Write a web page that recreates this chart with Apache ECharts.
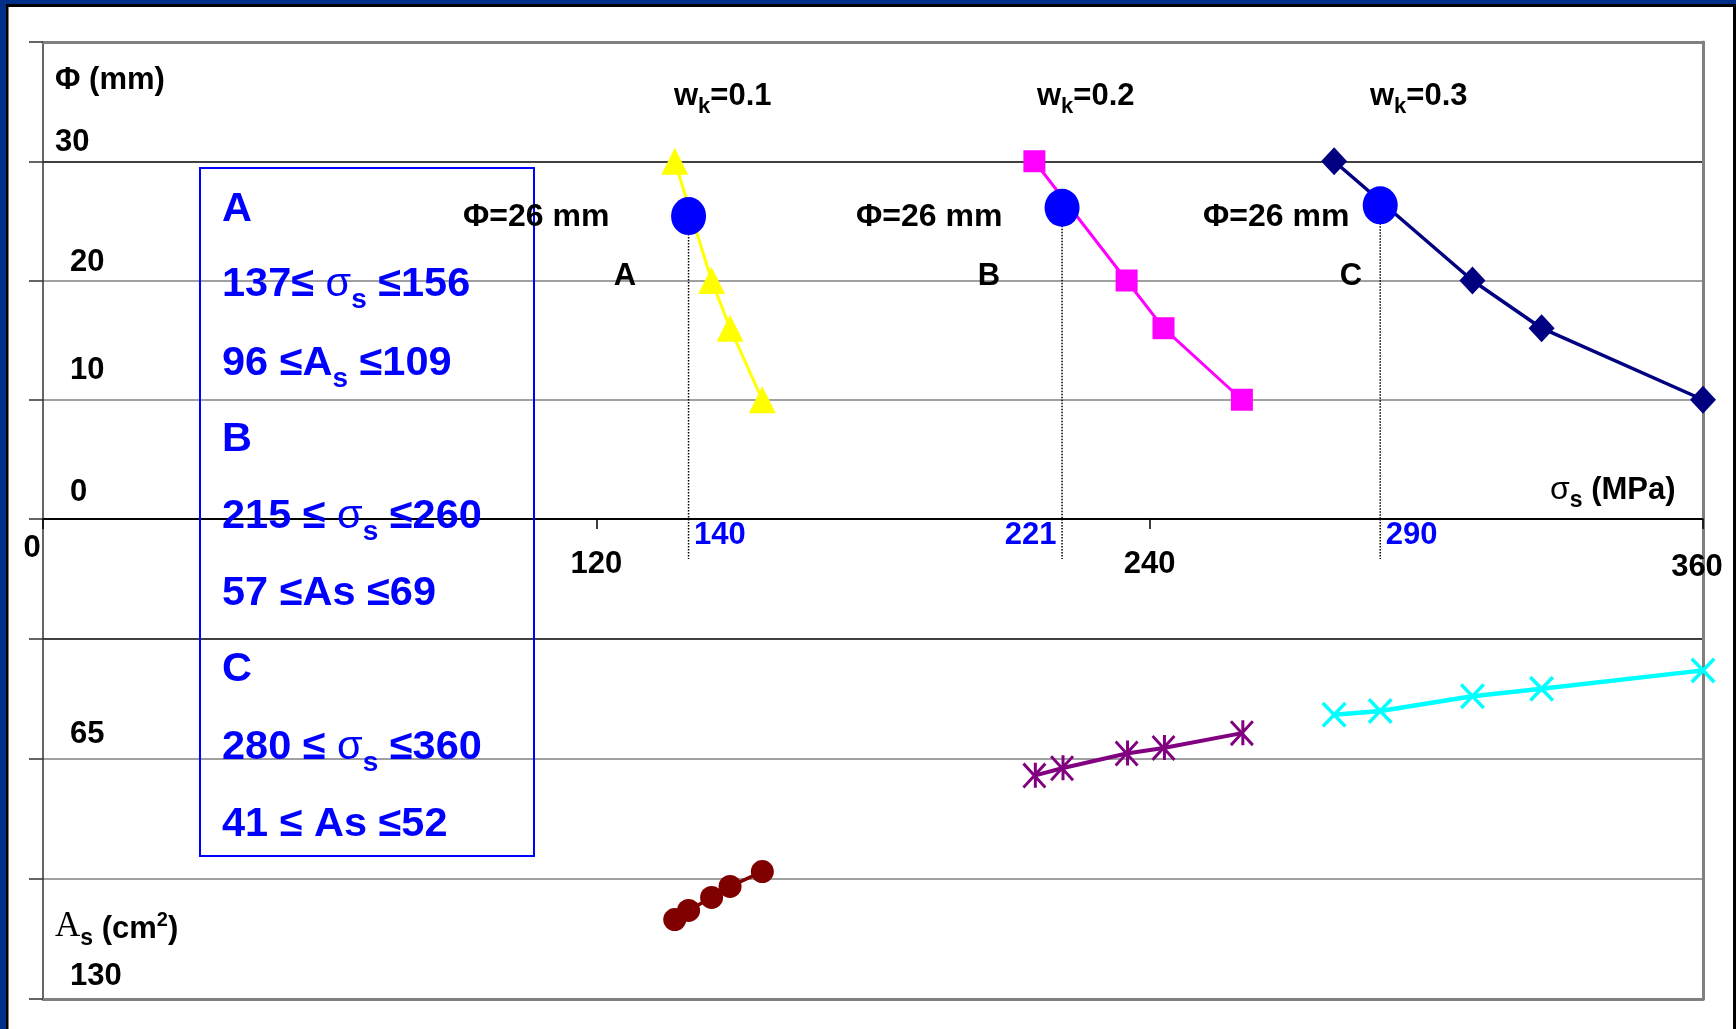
<!DOCTYPE html>
<html><head><meta charset="utf-8">
<script src="https://cdn.jsdelivr.net/npm/echarts@6/dist/echarts.min.js"></script>
<style>html,body{margin:0;padding:0;background:#fff}#c{width:1736px;height:1029px}</style>
</head><body><div id="c"></div>
<script>
// ---------- data ----------
const phi = [30, 20, 16, 10];                 // bar diameter (mm)
const sigmaA = [137, 145, 149, 156];          // wk = 0.1
const sigmaB = [215, 235, 243, 260];          // wk = 0.2
const sigmaC = [280, 310, 325, 360];          // wk = 0.3
const dotSigma = [140, 221, 290];             // Φ = 26 mm points
const dotPhi = [25.4, 26.1, 26.3];
const asSigmaA = [137, 140, 145, 149, 156];
const asA = [108.5, 106, 102.5, 99.5, 95.5];
const asSigmaB = [215, 221, 235, 243, 260];
const asB = [69.5, 67.5, 63.5, 62, 58];
const asSigmaC = [280, 290, 310, 325, 360];
const asC = [53, 52, 48, 46, 41];
const xTicks = [0, 120, 240, 360];
const phiTicks = [0, 10, 20, 30];
const asTicks = [65, 130];
const wkLabels = ['0.1', '0.2', '0.3'];
const groupNames = ['A', 'B', 'C'];
const boxLines = [
  '{m|A}',
  '{m|137≤ }{g|σ}{s|s}{m| ≤156}',
  '{m|96 ≤A}{s|s}{m| ≤109}',
  '{m|B}',
  '{m|215 ≤ }{g|σ}{s|s}{m| ≤260}',
  '{m|57 ≤As ≤69}',
  '{m|C}',
  '{m|280 ≤ }{g|σ}{s|s}{m| ≤360}',
  '{m|41 ≤ As ≤52}'
];

// ---------- styles ----------
const FONT = "'Liberation Sans', Arial, Helvetica, sans-serif";
const pairs = (xs, ys) => xs.map((x, i) => [x, ys[i]]);
const asteriskPath = 'path://M10.5 0L13.5 0L13.5 24L10.5 24Z M1.1 -0.1L23.1 22.9L21 24.9L-1 1.9Z M23.1 1.9L1.1 24.9L-1 22.9L21 -0.1Z';
const crossPath = 'path://M1.2 -1.2L23.2 20.8L20.8 23.2L-1.2 1.2Z M23.2 1.2L1.2 23.2L-1.2 20.8L20.8 -1.2Z';
const phiLift = {30: [8, 0], 20: [7, 15], 10: [28, 15], 0: [23, 15]};
const asLift = {65: [20, 15], 130: [16, 15]};
const dotDepth = 10.8;
const labelSide = ['right', 'left', 'right'];
const dotLabelX = [463, 856, 1203];
const wkX = [674, 1037, 1370];
const grpX = [625, 989, 1351];

function yRich(lift) {
  const r = {};
  Object.keys(lift).forEach(k => {
    r['t' + k] = {fontSize: 31, fontWeight: 'bold', color: '#000', fontFamily: FONT,
      lineHeight: 30, padding: [0, 0, lift[k][0], lift[k][1]]};
  });
  return r;
}

const chart = echarts.init(document.getElementById('c'), null, {renderer: 'canvas'});

function lineSeries(xi, yi, data, color, symbol, size, width, z) {
  return {type: 'line', xAxisIndex: xi, yAxisIndex: yi, data, symbol, symbolSize: size,
    showAllSymbol: true, itemStyle: {color, borderWidth: 0, opacity: 1},
    lineStyle: {color, width}, z: z || 3, animation: false, silent: true};
}

const series = [
  lineSeries(0, 0, pairs(sigmaA, phi), '#FFFF00', 'triangle', 27, 3),
  lineSeries(0, 0, pairs(sigmaB, phi), '#FF00FF', 'rect', 22, 3),
  lineSeries(0, 0, pairs(sigmaC, phi), '#000080', 'diamond', [26, 28], 3.5),
  lineSeries(2, 2, pairs(asSigmaA, asA), '#800000', 'circle', 23, 3.5),
  lineSeries(2, 2, pairs(asSigmaB, asB), '#800080', asteriskPath, [24, 26], 4),
  lineSeries(2, 2, pairs(asSigmaC, asC), '#00FFFF', crossPath, [25, 26], 4.5)
];
dotSigma.forEach((s, i) => {
  series.push({type: 'line', xAxisIndex: 0, yAxisIndex: 0, data: [[s, dotPhi[i]], [s, 0]],
    symbol: 'none', lineStyle: {type: 'dotted', color: '#000', width: 1.5}, z: 2,
    animation: false, silent: true});
  series.push({type: 'line', xAxisIndex: 2, yAxisIndex: 2,
    data: [[s, 0], {value: [s, dotDepth], label: {show: true}}],
    symbol: 'circle', symbolSize: 1, itemStyle: {color: 'rgba(0,0,0,0)'},
    lineStyle: {type: 'dotted', color: '#000', width: 1.5}, z: 2, animation: false, silent: true,
    label: {show: false, position: labelSide[i], distance: 5, offset: [0, -23],
      formatter: p => String(p.value[0]), color: '#0000FF', fontSize: 31,
      fontWeight: 'bold', fontFamily: FONT}});
});
series.push({type: 'scatter', xAxisIndex: 0, yAxisIndex: 0, data: pairs(dotSigma, dotPhi),
  symbol: 'circle', symbolSize: [35, 38], itemStyle: {color: '#0000FF', opacity: 1},
  z: 5, animation: false, silent: true});

// ---------- text annotations ----------
const graphic = [
  {type: 'rect', shape: {x: 0, y: 0, width: 1736, height: 4}, style: {fill: '#003087'}, z: 100},
  {type: 'rect', shape: {x: 0, y: 4, width: 1736, height: 3}, style: {fill: '#000'}, z: 100},
  {type: 'rect', shape: {x: 0, y: 0, width: 6, height: 1029}, style: {fill: '#003087'}, z: 100},
  {type: 'rect', shape: {x: 6, y: 4, width: 2.5, height: 1025}, style: {fill: '#000'}, z: 100},
  {type: 'rect', shape: {x: 1733, y: 4, width: 3, height: 1025}, style: {fill: '#000'}, z: 100},
  {type: 'rect', shape: {x: 200, y: 168, width: 334, height: 688},
    style: {fill: 'none', stroke: '#0000FF', lineWidth: 2}, z: 50},
  {type: 'text', x: 55, y: 80, style: {text: 'Φ (mm)', fill: '#000', fontSize: 31,
    fontWeight: 'bold', fontFamily: FONT, verticalAlign: 'middle'}, z: 50},
  {type: 'text', x: 55, y: 930, style: {
    text: '{a|A}{s|s}{b| (cm}{p|2}{b|)}', verticalAlign: 'middle',
    rich: {
      a: {fontSize: 35, fontFamily: "'Liberation Serif', serif", fill: '#000', verticalAlign: 'bottom', padding: [0, 0, 6, 0]},
      s: {fontSize: 23, fontWeight: 'bold', fontFamily: FONT, fill: '#000', verticalAlign: 'bottom'},
      b: {fontSize: 31, fontWeight: 'bold', fontFamily: FONT, fill: '#000', verticalAlign: 'bottom', padding: [0, 0, 6, 0]},
      p: {fontSize: 20, fontWeight: 'bold', fontFamily: FONT, fill: '#000', verticalAlign: 'bottom', padding: [0, 0, 20, 0]}
    }}, z: 50},
  {type: 'text', x: 1550, y: 493, style: {
    text: '{g|σ}{s|s}{b| (MPa)}', verticalAlign: 'middle',
    rich: {
      g: {fontSize: 32, fontFamily: FONT, fill: '#000', verticalAlign: 'bottom', padding: [0, 0, 6, 0]},
      s: {fontSize: 23, fontWeight: 'bold', fontFamily: FONT, fill: '#000', verticalAlign: 'bottom'},
      b: {fontSize: 31, fontWeight: 'bold', fontFamily: FONT, fill: '#000', verticalAlign: 'bottom', padding: [0, 0, 6, 0]}
    }}, z: 50}
];
wkLabels.forEach((w, i) => {
  graphic.push({type: 'text', x: wkX[i], y: 99, style: {
    text: '{m|w}{s|k}{m|=' + w + '}', verticalAlign: 'middle',
    rich: {
      m: {fontSize: 31, fontWeight: 'bold', fontFamily: FONT, fill: '#000', verticalAlign: 'bottom', padding: [0, 0, 6, 0]},
      s: {fontSize: 22, fontWeight: 'bold', fontFamily: FONT, fill: '#000', verticalAlign: 'bottom'}
    }}, z: 50});
  graphic.push({type: 'text', x: dotLabelX[i], y: 217, style: {text: 'Φ=26 mm', fill: '#000',
    fontSize: 32, fontWeight: 'bold', fontFamily: FONT, verticalAlign: 'middle'}, z: 50});
  graphic.push({type: 'text', x: grpX[i], y: 276, style: {text: groupNames[i], fill: '#000',
    fontSize: 31, fontWeight: 'bold', fontFamily: FONT, align: 'center', verticalAlign: 'middle'}, z: 50});
});
const boxY = [214, 289, 368, 444, 521, 598, 674, 752, 829];
boxLines.forEach((t, i) => {
  graphic.push({type: 'text', x: 222, y: boxY[i], style: {
    text: t, verticalAlign: 'middle',
    rich: {
      m: {fontSize: 41.5, fontWeight: 'bold', fontFamily: FONT, fill: '#0000FF', verticalAlign: 'bottom', padding: [0, 0, 8, 0]},
      g: {fontSize: 41.5, fontFamily: FONT, fill: '#0000FF', verticalAlign: 'bottom', padding: [0, 0, 8, 0]},
      s: {fontSize: 28, fontWeight: 'bold', fontFamily: FONT, fill: '#0000FF', verticalAlign: 'bottom'}
    }}, z: 50});
});

const greyBorder = {show: true, onZero: false, lineStyle: {color: '#808080', width: 3}};
const option = {
  backgroundColor: '#fff',
  animation: false,
  grid: [
    {left: 43, top: 42, width: 1660, height: 477, outerBoundsMode: 'none', containLabel: false},
    {left: 43, top: 519, width: 1660, height: 480, outerBoundsMode: 'none', containLabel: false}
  ],
  xAxis: [
    {type: 'value', gridIndex: 0, min: 0, max: 360, interval: 120, position: 'bottom',
      axisLine: {show: true, onZero: false, lineStyle: {color: '#000', width: 1.5}},
      axisTick: {show: true, inside: false, length: 10, lineStyle: {color: '#000', width: 1.5}},
      splitLine: {show: false},
      axisLabel: {show: true, margin: 14, showMinLabel: true, showMaxLabel: true, hideOverlap: false,
        formatter: v => xTicks.includes(v) ? (v === 0 ? '{z|0}' : (v === 360 ? '{e|360}' : '{n|' + v + '}')) : '',
        rich: {
          z: {fontSize: 31, fontWeight: 'bold', color: '#000', fontFamily: FONT, padding: [0, 22, 0, 0]},
          n: {fontSize: 31, fontWeight: 'bold', color: '#000', fontFamily: FONT, padding: [16, 0, 0, 0]},
          e: {fontSize: 31, fontWeight: 'bold', color: '#000', fontFamily: FONT, padding: [19, 12, 0, 0]}
        }}},
    {type: 'value', gridIndex: 0, min: 0, max: 360, position: 'top', axisLine: greyBorder,
      axisTick: {show: false}, axisLabel: {show: false}, splitLine: {show: false}},
    {type: 'value', gridIndex: 1, min: 0, max: 360, position: 'bottom', axisLine: greyBorder,
      axisTick: {show: false}, axisLabel: {show: false}, splitLine: {show: false}}
  ],
  yAxis: [
    {type: 'value', gridIndex: 0, min: 0, max: 40, interval: 10, position: 'left',
      axisLine: {show: true, onZero: false, lineStyle: {color: '#333', width: 1.5}},
      axisTick: {show: true, inside: false, length: 14, lineStyle: {color: '#333', width: 1.5}},
      splitLine: {show: true, showMinLine: true, showMaxLine: true,
        lineStyle: {color: ['#000', '#808080', '#808080', '#000', '#808080'], width: 1.5}},
      axisLabel: {show: true, inside: true, margin: 12, verticalAlign: 'bottom', align: 'left',
        showMinLabel: true, showMaxLabel: true, hideOverlap: false,
        formatter: v => phiTicks.includes(v) ? '{t' + v + '|' + v + '}' : '',
        rich: yRich(phiLift)}},
    {type: 'value', gridIndex: 0, min: 0, max: 40, position: 'right', axisLine: greyBorder,
      axisTick: {show: false}, axisLabel: {show: false}, splitLine: {show: false}},
    {type: 'value', gridIndex: 1, min: 0, max: 130, interval: 32.5, inverse: true, position: 'left',
      axisLine: {show: true, onZero: false, lineStyle: {color: '#333', width: 1.5}},
      axisTick: {show: true, inside: false, length: 14, lineStyle: {color: '#333', width: 1.5}},
      splitLine: {show: true, showMinLine: true, showMaxLine: true,
        lineStyle: {color: ['#000', '#000', '#808080', '#808080', '#808080'], width: 1.5}},
      axisLabel: {show: true, inside: true, margin: 12, verticalAlign: 'bottom', align: 'left',
        showMinLabel: true, showMaxLabel: true, hideOverlap: false,
        formatter: v => asTicks.includes(v) ? '{t' + v + '|' + v + '}' : '',
        rich: yRich(asLift)}},
    {type: 'value', gridIndex: 1, min: 0, max: 130, inverse: true, position: 'right', axisLine: greyBorder,
      axisTick: {show: false}, axisLabel: {show: false}, splitLine: {show: false}}
  ],
  series,
  graphic
};
chart.setOption(option);
</script>
</body></html>
